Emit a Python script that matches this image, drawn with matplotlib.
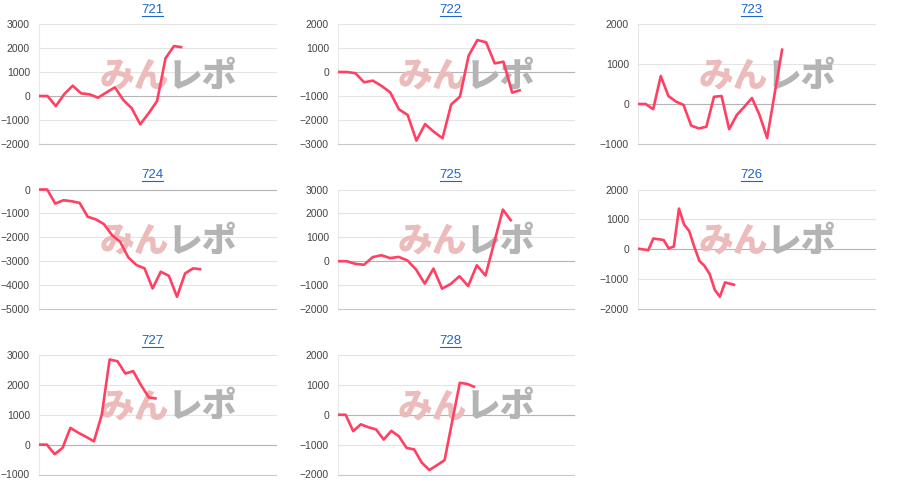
import matplotlib
matplotlib.use('Agg')
import matplotlib.pyplot as plt
from matplotlib.lines import Line2D

plt.rcParams['font.family'] = ['Liberation Sans', 'Noto Sans CJK JP', 'DejaVu Sans']

# chart names (one panel each)
names = ['721', '722', '723', '724', '725', '726', '727', '728']

# series values (x = slot index, gaps where a slot is missing)
y_721 = [0, 0, -420, 80, 430, 110, 70, -70, 150, 360, -170, -510, -1180, -720, -210, 1570, 2080, 2030]
y_722 = [0, 0, -50, -430, -360, -580, -850, -1560, -1790, -2860, -2170, -2490, -2760, -1350, -1030,
         680, 1330, 1240, 360, 430, -860, -750]
x_723 = list(range(18)) + [19]
y_723 = [0, 0, -130, 700, 200, 60, -25, -540, -610, -570, 180, 200, -630, -275, -70, 150, -275, -850, 1390]
y_724 = [0, 0, -590, -450, -490, -560, -1140, -1250, -1450, -1910, -2190, -2840, -3160, -3300, -4140,
         -3440, -3610, -4490, -3510, -3300, -3340]
x_725 = list(range(18)) + [19, 20]
y_725 = [0, 0, -110, -150, 170, 250, 130, 180, 30, -350, -940, -310, -1150, -950, -630, -1040, -170, -600,
         2160, 1670]
x_726 = [0, 2, 3, 5, 6, 7, 8, 9, 10, 11, 12, 13, 14, 15, 16, 17, 19]
y_726 = [20, -30, 360, 310, 30, 90, 1360, 830, 610, 80, -390, -560, -830, -1360, -1590, -1110, -1200]
y_727 = [0, 0, -320, -110, 560, 400, 260, 110, 1000, 2850, 2790, 2380, 2460, 1990, 1580, 1540]
x_728 = list(range(15)) + [16, 17, 18]
y_728 = [0, 0, -550, -320, -420, -490, -830, -540, -720, -1110, -1160, -1600, -1850, -1690, -1520,
         1070, 1030, 920]

xs = [list(range(len(y_721))), list(range(len(y_722))), x_723, list(range(len(y_724))),
      x_725, x_726, list(range(len(y_727))), x_728]
ys = [y_721, y_722, y_723, y_724, y_725, y_726, y_727, y_728]

# axis ranges
x_max = [28.1, 27.1, 31.2, 29.2, 27.2, 46.3, 30.2, 31.0]
y_lo = [-2000, -3000, -1000, -5000, -2000, -2000, -1000, -2000]
y_hi = [3000, 2000, 2000, 0, 3000, 2000, 3000, 2000]

W, H = 900, 495
# panel boxes in pixels: left, top, width, height
boxes = [(39, 24, 237, 120), (338, 24, 236, 120), (638, 24, 237, 120),
         (39, 189.5, 237, 119.5), (338, 189.5, 236, 119.5), (638, 189.5, 237, 119.5),
         (39, 355, 237, 119.5), (338, 355, 236, 119.5)]

LINE = '#ff4062'
LINK = '#1a66cc'

fig = plt.figure(figsize=(W / 100, H / 100), dpi=100)

for i, name in enumerate(names):
    l, t, w, h = boxes[i]
    ax = fig.add_axes([l / W, 1 - (t + h) / H, w / W, h / H])
    ax.set_xlim(0, x_max[i])
    ax.set_ylim(y_lo[i], y_hi[i])
    ticks = list(range(y_lo[i], y_hi[i] + 1, 1000))
    ax.set_yticks(ticks)
    ax.set_xticks([])
    for s in ax.spines.values():
        s.set_visible(False)
    ax.tick_params(axis='y', length=0, pad=6.5, labelsize=7.5, labelcolor='#444444')

    # grid lines
    for tk in ticks:
        if tk == 0:
            c = '#b4b4b4'
        elif tk == y_lo[i]:
            c = '#c8c8c8'
        else:
            c = '#e4e4e4'
        ax.axhline(tk, color=c, lw=0.8, zorder=0.5, clip_on=False)
    ax.axvline(0, color='#e8e8e8', lw=0.8, zorder=0.5)

    # watermark
    ax.text(0.548, 0.567, 'みん', transform=ax.transAxes, ha='right', va='center',
            fontsize=25, fontweight='black', color='#ecbcbc', family='Noto Sans CJK JP', zorder=1)
    ax.text(0.542, 0.567, 'レポ', transform=ax.transAxes, ha='left', va='center',
            fontsize=25, fontweight='black', color='#b4b4b4', family='Noto Sans CJK JP', zorder=1)

    # data line
    ax.plot(xs[i], ys[i], color=LINE, lw=1.9, solid_joinstyle='round', solid_capstyle='butt',
            clip_on=False, zorder=3)

    # linked title with underline
    tx = 0.477
    ax.text(tx, 1 + 14 / h, name, transform=ax.transAxes, ha='center', va='center',
            color=LINK, fontsize=9.5)
    ax.add_line(Line2D([tx - 10.5 / w, tx + 10.5 / w], [1 + 8.5 / h] * 2, transform=ax.transAxes,
                       color=LINK, lw=0.8, clip_on=False))

fig.savefig('out.png', dpi=100)
